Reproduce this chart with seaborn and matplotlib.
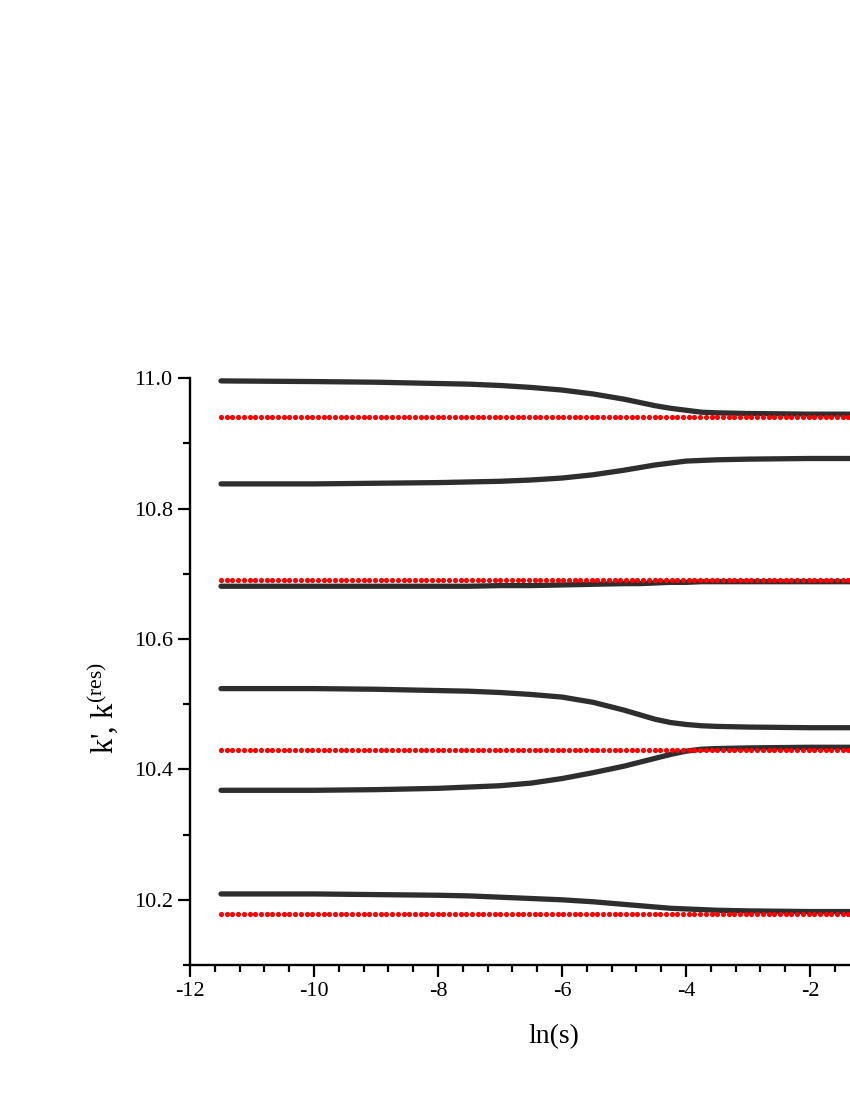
import numpy as np
import pandas as pd
import matplotlib
matplotlib.use("Agg")
import matplotlib.pyplot as plt
from matplotlib.ticker import MultipleLocator, FormatStrFormatter
import seaborn as sns

ln_s = [-11.5, -10.0, -9.0, -8.0, -7.5, -7.0, -6.5, -6.0, -5.5, -5.0,
        -4.75, -4.5, -4.25, -4.0, -3.75, -3.5, -3.0, -2.0, -0.5]

# k' curves (black)
k_a = [10.996, 10.995, 10.994, 10.992, 10.991, 10.989, 10.986, 10.982, 10.976, 10.968,
       10.963, 10.958, 10.954, 10.951, 10.948, 10.947, 10.946, 10.945, 10.945]
k_b = [10.838, 10.838, 10.839, 10.840, 10.841, 10.842, 10.844, 10.847, 10.852, 10.859,
       10.863, 10.867, 10.870, 10.873, 10.874, 10.875, 10.876, 10.877, 10.877]
k_c = [10.681, 10.681, 10.681, 10.681, 10.681, 10.682, 10.682, 10.683, 10.684, 10.685,
       10.685, 10.686, 10.687, 10.687, 10.688, 10.688, 10.688, 10.688, 10.688]
k_d = [10.524, 10.524, 10.523, 10.521, 10.520, 10.518, 10.515, 10.511, 10.503, 10.491,
       10.484, 10.477, 10.472, 10.469, 10.467, 10.466, 10.465, 10.464, 10.464]
k_e = [10.368, 10.368, 10.369, 10.371, 10.373, 10.375, 10.379, 10.386, 10.395, 10.405,
       10.411, 10.417, 10.423, 10.428, 10.431, 10.432, 10.433, 10.434, 10.434]
k_f = [10.209, 10.209, 10.208, 10.207, 10.206, 10.204, 10.202, 10.200, 10.197, 10.193,
       10.191, 10.189, 10.187, 10.186, 10.185, 10.184, 10.183, 10.182, 10.182]
curves = [k_a, k_b, k_c, k_d, k_e, k_f]

# k^(res) levels (red dotted)
k_res = [10.941, 10.690, 10.430, 10.179]
res_grid = np.arange(-11.5, -0.5, 0.092)

sns.set_style("ticks")
plt.rcParams['font.family'] = ['Liberation Serif', 'DejaVu Serif']
plt.rcParams['mathtext.fontset'] = 'custom'
plt.rcParams['mathtext.rm'] = 'Liberation Serif'
plt.rcParams['axes.unicode_minus'] = False
for key in ['text.color', 'axes.labelcolor', 'xtick.color', 'ytick.color',
            'axes.edgecolor']:
    plt.rcParams[key] = 'black'

fig = plt.figure(figsize=(8.5, 11), dpi=100)
# axes runs off the right edge of the page, like the reference
ax = fig.add_axes([190 / 850, 1 - 965 / 1100, 660 / 850, (965 - 378.3) / 1100])

for k in curves:
    sns.lineplot(x=ln_s, y=k, ax=ax, color='#2e2e2e', lw=3.8,
                 solid_capstyle='round', solid_joinstyle='round', zorder=2)

for lvl in k_res:
    df = pd.DataFrame({'x': res_grid, 'y': lvl})
    sns.scatterplot(data=df, x='x', y='y', ax=ax, color='#ff0000', s=14,
                    linewidth=0, zorder=3)

ax.set_xlim(-12, -12 + 660 / 62)
ax.set_ylim(10.1, 11.0)
ax.xaxis.set_major_locator(MultipleLocator(2))
ax.xaxis.set_minor_locator(MultipleLocator(0.4))
ax.yaxis.set_major_locator(MultipleLocator(0.2))
ax.yaxis.set_minor_locator(MultipleLocator(0.1))
ax.yaxis.set_major_formatter(FormatStrFormatter('%.1f'))

for side in ['top', 'right']:
    ax.spines[side].set_visible(False)
for side in ['left', 'bottom']:
    ax.spines[side].set_linewidth(1.7)

ax.tick_params(which='major', direction='out', length=8.5, width=1.6,
               labelsize=16, pad=4)
ax.tick_params(which='minor', direction='out', length=5, width=1.6)

ax.set_xlabel('ln(s)', fontsize=20)
ax.set_ylabel(r"k', k$^{\mathregular{(res)}}$", fontsize=22)
ax.xaxis.set_label_coords((554 - 190) / 660, (965 - 1024) / 586.7)
ax.yaxis.set_label_coords((121 - 190) / 660, (965 - 708) / 586.7)

fig.savefig('out.png', dpi=100)
